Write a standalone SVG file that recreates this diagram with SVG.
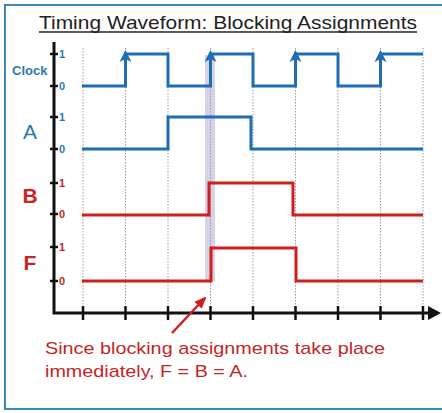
<svg xmlns="http://www.w3.org/2000/svg" width="442" height="413" viewBox="0 0 442 413">
<defs>
<style>
.grid{stroke:#9a9a9a;stroke-width:1;stroke-dasharray:1.5 1.5;fill:none}
.ax{stroke:#111;stroke-width:3;fill:none}
.tk{stroke:#111;stroke-width:2.5}
.wb{stroke:#1f6db3;stroke-width:3;fill:none;stroke-linejoin:miter}
.wr{stroke:#d01f1f;stroke-width:3;fill:none;stroke-linejoin:miter}
.tb{fill:#2b78b0;font-family:"Liberation Sans",Arial,sans-serif}
.tr{fill:#c42626;font-family:"Liberation Sans",Arial,sans-serif}
.lv{font-size:11px;font-weight:bold}
.ch{fill:#1f6db3}
</style>
<marker id="rarr" markerWidth="12" markerHeight="12" refX="10" refY="5" orient="auto" markerUnits="userSpaceOnUse" viewBox="0 0 12 10">
<path d="M0,0 L12,5 L0,10 Z" fill="#d01f1f"/>
</marker>
</defs>
<rect x="0" y="0" width="442" height="413" fill="#ffffff"/>
<rect x="5" y="5" width="440" height="404" fill="none" stroke="#3a8bb5" stroke-width="2"/>
<g id="title">
<text x="228" y="29" text-anchor="middle" font-family="&quot;Liberation Sans&quot;,Arial,sans-serif" font-size="19" fill="#222" textLength="378" lengthAdjust="spacingAndGlyphs">Timing Waveform: Blocking Assignments</text>
<line x1="39" y1="32" x2="417" y2="32" stroke="#222" stroke-width="1.3"/>
</g>
<g id="highlight">
<rect x="205" y="55" width="10" height="226" fill="#c8c4e2" opacity="0.75"/>
</g>
<g id="grid">
<line class="grid" x1="83" y1="48" x2="83" y2="313"/>
<line class="grid" x1="125.5" y1="48" x2="125.5" y2="313"/>
<line class="grid" x1="168" y1="48" x2="168" y2="313"/>
<line class="grid" x1="210.5" y1="48" x2="210.5" y2="313"/>
<line class="grid" x1="253" y1="48" x2="253" y2="313"/>
<line class="grid" x1="295.5" y1="48" x2="295.5" y2="313"/>
<line class="grid" x1="338" y1="48" x2="338" y2="313"/>
<line class="grid" x1="380.5" y1="48" x2="380.5" y2="313"/>
<line class="grid" x1="423" y1="48" x2="423" y2="313"/>
</g>
<g id="axes">
<polyline class="ax" points="54,42 54,313 430,313"/>
<path d="M428,306 L441,313 L428,320 Z" fill="#111"/>
<g class="tk">
<line x1="83" y1="306" x2="83" y2="320"/>
<line x1="125.5" y1="306" x2="125.5" y2="320"/>
<line x1="168" y1="306" x2="168" y2="320"/>
<line x1="210.5" y1="306" x2="210.5" y2="320"/>
<line x1="253" y1="306" x2="253" y2="320"/>
<line x1="295.5" y1="306" x2="295.5" y2="320"/>
<line x1="338" y1="306" x2="338" y2="320"/>
<line x1="380.5" y1="306" x2="380.5" y2="320"/>
<line x1="423" y1="306" x2="423" y2="320"/>
<line x1="50" y1="54" x2="58" y2="54"/>
<line x1="50" y1="86" x2="58" y2="86"/>
<line x1="50" y1="117" x2="58" y2="117"/>
<line x1="50" y1="149" x2="58" y2="149"/>
<line x1="50" y1="183" x2="58" y2="183"/>
<line x1="50" y1="214" x2="58" y2="214"/>
<line x1="50" y1="247" x2="58" y2="247"/>
<line x1="50" y1="281" x2="58" y2="281"/>
</g>
</g>
<g id="clock">
<text class="tb" x="12" y="75" font-size="13" font-weight="bold">Clock</text>
<text class="tb lv" x="59" y="58">1</text>
<text class="tb lv" x="59" y="90">0</text>
<polyline class="wb" points="82,86 125.5,86 125.5,54 168,54 168,86 210.5,86 210.5,54 253,54 253,86 295.5,86 295.5,54 338,54 338,86 380.5,86 380.5,54 423,54"/>
<path class="ch" d="M119.5,62 L125.5,50 L131.5,62 L125.5,59 Z"/>
<path class="ch" d="M204.5,62 L210.5,50 L216.5,62 L210.5,59 Z"/>
<path class="ch" d="M289.5,62 L295.5,50 L301.5,62 L295.5,59 Z"/>
<path class="ch" d="M374.5,62 L380.5,50 L386.5,62 L380.5,59 Z"/>
</g>
<g id="signalA">
<text class="tb" x="30" y="139" font-size="21" text-anchor="middle">A</text>
<text class="tb lv" x="59" y="121">1</text>
<text class="tb lv" x="59" y="153">0</text>
<polyline class="wb" points="82,149 168,149 168,117 251,117 251,149 423,149"/>
</g>
<g id="signalB">
<text class="tr" x="30" y="203" font-size="21" text-anchor="middle" font-weight="bold">B</text>
<text class="tr lv" x="59" y="187">1</text>
<text class="tr lv" x="59" y="218">0</text>
<polyline class="wr" points="82,215 209,215 209,183 293,183 293,215 423,215"/>
</g>
<g id="signalF">
<text class="tr" x="30" y="270" font-size="21" text-anchor="middle" font-weight="bold">F</text>
<text class="tr lv" x="59" y="251">1</text>
<text class="tr lv" x="59" y="285">0</text>
<polyline class="wr" points="82,281 211,281 211,248 296,248 296,281 423,281"/>
</g>
<g id="connectors">
<line x1="172" y1="333" x2="205" y2="298" stroke="#d01f1f" stroke-width="2.5" marker-end="url(#rarr)"/>
</g>
<g id="note">
<text class="tr" x="45" y="354" font-size="17" textLength="340" lengthAdjust="spacingAndGlyphs">Since blocking assignments take place</text>
<text class="tr" x="45" y="377" font-size="17" textLength="203" lengthAdjust="spacingAndGlyphs">immediately, F = B = A.</text>
</g>
</svg>
